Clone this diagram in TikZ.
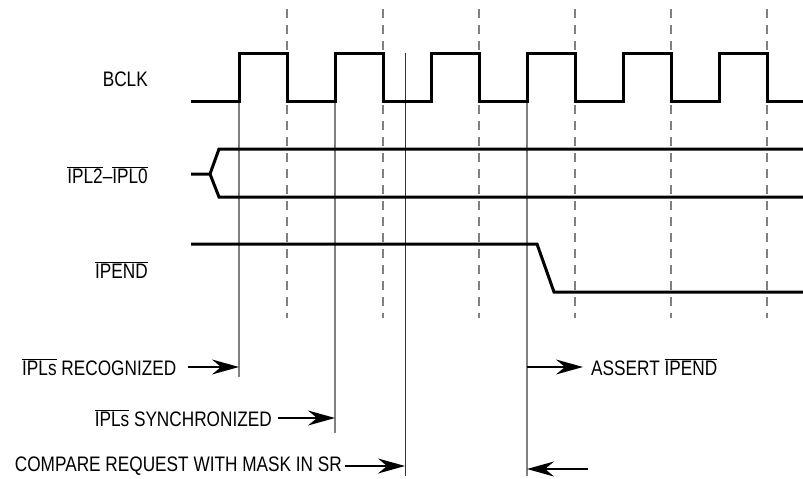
\documentclass[tikz,border=0pt]{standalone}
\usepackage{fontspec}
\setmainfont[FakeStretch=0.82]{Liberation Sans}
\usepackage{tikz}
\usetikzlibrary{arrows.meta}
\tikzstyle{lbl}=[inner sep=0pt,font=\fontsize{21}{25}\selectfont]
\tikzstyle{sig}=[line width=3pt,line join=miter]
\tikzstyle{guide}=[draw=black!50,line width=2pt]
\tikzstyle{halfper}=[draw=black!50,line width=2pt,dash pattern=on 9pt off 7pt]
\tikzstyle{arr}=[-{Stealth[length=27pt,width=15pt,inset=9pt]},line width=1.6pt]
\newcommand{\ovl}[1]{$\overline{\mbox{#1}}$}

\begin{document}
\begin{tikzpicture}[x=1pt,y=-1pt]
\useasboundingbox (0,0) rectangle (803,479);
% falling edges
\draw[halfper](287,9)--(287,318);\draw[halfper](383,9)--(383,318);\draw[halfper](479,9)--(479,318);
\draw[halfper](575,9)--(575,318);\draw[halfper](671,9)--(671,318);\draw[halfper](767,9)--(767,318);
% event lines
\coordinate (recT) at (239,101); \coordinate (recB) at (239,377);
\coordinate (synT) at (335,101); \coordinate (synB) at (335,433);
\coordinate (cmpT) at (405,53);  \coordinate (cmpB) at (405,476);
\coordinate (astT) at (527,101); \coordinate (astB) at (527,476);
\draw[guide](recT)--(recB);\draw[guide](synT)--(synB);\draw[guide](astT)--(astB);
\draw[draw=black!80,line width=1pt](cmpT)--(cmpB);
% signals
\draw[sig](191,101)--(239,101)--(239,53)--(287,53)--(287,101)--(335,101)--(335,53)--(383,53)--(383,101)
  --(431,101)--(431,53)--(479,53)--(479,101)--(527,101)--(527,53)--(575,53)--(575,101)
  --(623,101)--(623,53)--(671,53)--(671,101)--(719,101)--(719,53)--(767,53)--(767,101)--(803,101);
\draw[sig](191,174)--(210,174)--(219,149)--(803,149);\draw[sig](210,174)--(219,197)--(803,197);
\draw[sig](191,244)--(537,244)--(554,292)--(803,292);
% names
\node[lbl,anchor=east] (bclk) at (148,79) {BCLK};
\node[lbl,anchor=east] (ipl) at (148,175) {\ovl{IPL2}--\ovl{IPL0}};
\node[lbl,anchor=east] (ipend) at (148,270) {\ovl{IPEND}};
% events
\node[lbl,anchor=west] (rec) at (22,367) {\ovl{IPLs} RECOGNIZED};
\node[lbl,anchor=east] (syn) at (272,418) {\ovl{IPLs} SYNCHRONIZED};
\node[lbl,anchor=east] (cmp) at (342,466) {COMPARE REQUEST WITH MASK IN SR};
\node[lbl,anchor=west] (ast) at (591,367) {ASSERT \ovl{IPEND}};
\coordinate (recA) at (239,367); \coordinate (synA) at (335,418); \coordinate (cmpA) at (405,466);
\coordinate (astA) at (527,367); \coordinate (backA) at (527,469); \coordinate (back) at (588,469);
\draw[arr]([xshift=12pt]rec.east)--(recA);\draw[arr]([xshift=6pt]syn.east)--(synA);
\draw[arr]([xshift=3pt]cmp.east)--(cmpA);\draw[arr](astA)--([xshift=-8pt]ast.west);
\draw[arr](back)--(backA);
\end{tikzpicture}
\end{document}
